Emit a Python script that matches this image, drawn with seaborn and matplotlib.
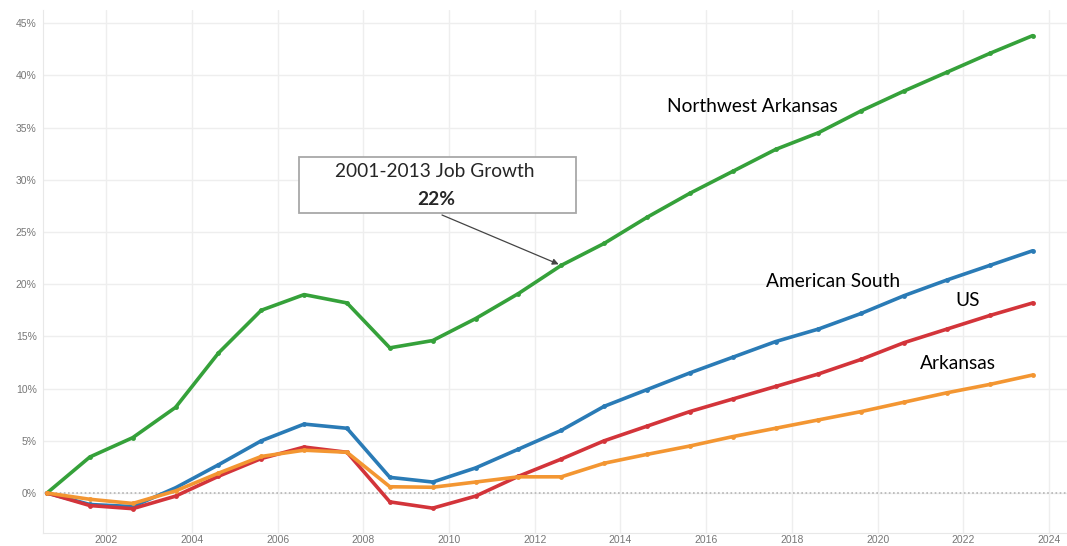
import numpy as np
import pandas as pd
import seaborn as sns
import matplotlib.pyplot as plt
from matplotlib.patches import Rectangle
from matplotlib.ticker import FuncFormatter

sns.set_style("white")
plt.rcParams['font.family'] = ['Lato', 'DejaVu Sans']

# Cumulative job growth since 2001, in percent
years = list(range(2001, 2025))
nw_arkansas = [0.0, 3.45, 5.3, 8.2, 13.4, 17.5, 19.0, 18.2, 13.9, 14.6, 16.7, 19.1,
               21.8, 23.9, 26.4, 28.7, 30.8, 32.9, 34.5, 36.6, 38.5, 40.3, 42.1, 43.8]
american_south = [0.0, -1.1, -1.3, 0.5, 2.7, 5.0, 6.6, 6.2, 1.5, 1.05, 2.4, 4.2,
                  6.0, 8.3, 9.9, 11.5, 13.0, 14.5, 15.7, 17.2, 18.9, 20.4, 21.8, 23.2]
us = [0.0, -1.2, -1.5, -0.3, 1.6, 3.3, 4.4, 3.9, -0.85, -1.45, -0.3, 1.6,
      3.25, 5.0, 6.4, 7.8, 9.0, 10.2, 11.4, 12.8, 14.4, 15.7, 17.0, 18.2]
arkansas = [0.0, -0.6, -1.0, 0.2, 1.9, 3.5, 4.1, 3.9, 0.6, 0.55, 1.05, 1.55,
            1.55, 2.85, 3.7, 4.5, 5.4, 6.2, 7.0, 7.8, 8.7, 9.6, 10.4, 11.3]

series = {
    "Northwest Arkansas": nw_arkansas,
    "American South": american_south,
    "US": us,
    "Arkansas": arkansas,
}
palette = {
    "Northwest Arkansas": "#35a13a",
    "American South": "#2a7bb6",
    "US": "#d3343a",
    "Arkansas": "#f39632",
}

df = pd.DataFrame({"year": years, **series})
df_long = df.melt(id_vars="year", var_name="Region", value_name="Growth")
# points sit a bit before the year tick on the original date axis
df_long["x"] = df_long["year"] - 0.38

fig = plt.figure(figsize=(10.67, 5.46), dpi=100)
ax = fig.add_axes([0.0403, 0.0238, 0.9597, 0.958])

sns.lineplot(data=df_long, x="x", y="Growth", hue="Region", palette=palette,
             hue_order=list(series.keys()), linewidth=2.6, marker="o",
             markersize=3.5, markeredgewidth=0, legend=False, ax=ax)

ax.axhline(0, color="#b5b5b5", linestyle=(0, (1, 1.5)), linewidth=1.2, zorder=1)

ax.set_xlim(2000.527, 2024.42)
ax.set_ylim(-3.83, 46.26)
ax.set_xticks(range(2002, 2025, 2))
ax.set_yticks(range(0, 46, 5))
ax.yaxis.set_major_formatter(FuncFormatter(lambda v, p: f"{int(v)}%"))
ax.grid(True, color="#eeeeee", linewidth=1)
ax.set_xlabel("")
ax.set_ylabel("")
for s in ax.spines.values():
    s.set_color("#e8e8e8")
ax.spines["right"].set_visible(False)
ax.spines["top"].set_visible(False)
ax.tick_params(axis="both", colors="#e0e0e0", labelcolor="#777777",
               labelsize=7.5, width=0.8)
ax.tick_params(axis="y", length=2, pad=2.5)
ax.tick_params(axis="x", length=0, pad=1.5)
for lab in ax.get_xticklabels() + ax.get_yticklabels():
    lab.set_family(["Liberation Sans", "DejaVu Sans"])

# series labels
label_kw = dict(fontsize=13.8, color="black", ha="center", va="center")
ax.text(2017.07, 37.0, "Northwest Arkansas", **label_kw)
ax.text(2018.96, 20.3, "American South", **label_kw)
ax.text(2022.09, 18.4, "US", **label_kw)
ax.text(2021.88, 12.4, "Arkansas", **label_kw)

# call-out box
fig.patches.append(Rectangle((0.2802, 0.6099), 0.2596, 0.1026,
                             transform=fig.transFigure, facecolor="white",
                             edgecolor="#a8a8a8", linewidth=1.3, zorder=5))
fig.text(0.4077, 0.685, "2001-2013 Job Growth", fontsize=13.8,
         ha="center", va="center", zorder=6)
fig.text(0.4086, 0.6355, "22%", fontsize=13.8, fontweight="bold",
         ha="center", va="center", zorder=6)
ax.annotate("", xy=(2013 - 0.38, 21.8), xycoords="data",
            xytext=(442, 331), textcoords="figure pixels",
            arrowprops=dict(arrowstyle="-|>", color="#444444", lw=0.9,
                            shrinkA=0, shrinkB=2, mutation_scale=9))

fig.savefig("out.png", dpi=100)
